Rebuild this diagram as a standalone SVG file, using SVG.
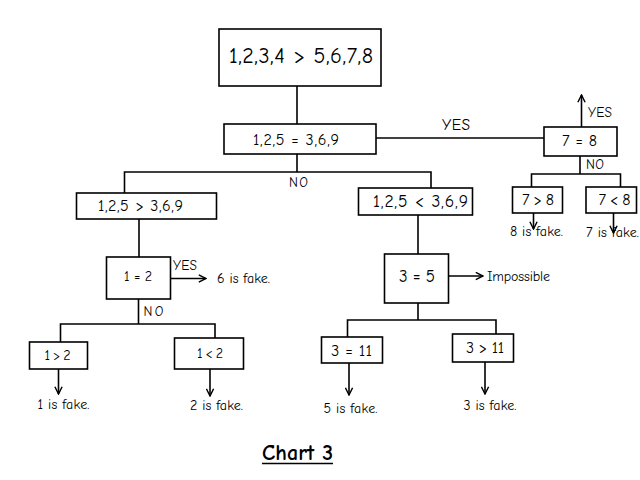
<svg xmlns="http://www.w3.org/2000/svg" width="640" height="480" viewBox="0 0 640 480">
<defs>
<marker id="ah" viewBox="0 0 10 10" refX="9" refY="5" markerWidth="9" markerHeight="9" markerUnits="userSpaceOnUse" orient="auto">
<path d="M1,1 L9,5 L1,9" fill="none" stroke="#000" stroke-width="1.6"/>
</marker>
<style>
.b{fill:#fff;stroke:#000;stroke-width:1.6}
.l{fill:none;stroke:#000;stroke-width:1.6}
.a{fill:none;stroke:#000;stroke-width:1.6;marker-end:url(#ah)}
text{font-family:"Comic Sans MS","Comic Neue","DejaVu Sans",sans-serif;fill:#000}
.t{font-size:16px}
.s{font-size:14px}
.y{font-size:13.5px}
</style>
</defs>
<rect width="640" height="480" fill="#fff"/>
<g id="connectors">
<path class="l" d="M297,86 V124"/>
<path class="l" d="M376,138 H544"/>
<path class="a" d="M581.5,127 V95"/>
<path class="l" d="M580,156 V174 M531.5,187 V174 H620.5 V187"/>
<path class="a" d="M533.5,213 V229"/>
<path class="a" d="M613.5,213 V233"/>
<path class="l" d="M297,154 V172 M124.5,193 V172 H431 V188"/>
<path class="l" d="M139,219 V257"/>
<path class="a" d="M171,278.5 H206"/>
<path class="l" d="M138.5,299 V324 M60.5,342 V324 H215 V338"/>
<path class="a" d="M58.5,369 V394"/>
<path class="a" d="M210,369 V396"/>
<path class="l" d="M418,215 V254"/>
<path class="a" d="M448,276 H483"/>
<path class="l" d="M418,303 V320 M347.5,337 V320 H496 V334"/>
<path class="a" d="M349,363 V395"/>
<path class="a" d="M485,362 V394"/>
</g>
<g id="n1"><rect class="b" x="219" y="29" width="162" height="57"/><text x="229" y="63" textLength="144" style="font-size:22px">1,2,3,4 &gt; 5,6,7,8</text></g>
<g id="n2"><rect class="b" x="224" y="124" width="152" height="30"/><text class="t" x="253" y="145" textLength="86">1,2,5 = 3,6,9</text></g>
<g id="lblYes1"><text x="442" y="129.5" textLength="28" style="font-size:15.5px">YES</text></g>
<g id="n3"><rect class="b" x="544" y="127" width="73" height="29"/><text class="t" x="562" y="146" textLength="35">7 = 8</text></g>
<g id="lblYes2"><text class="y" x="588" y="117" textLength="24">YES</text></g>
<g id="lblNo2"><text class="y" x="586" y="169" textLength="18">NO</text></g>
<g id="n4"><rect class="b" x="512.5" y="187" width="50" height="26"/><text class="t" x="522" y="205" textLength="32">7 &gt; 8</text></g>
<g id="n5"><rect class="b" x="586" y="187" width="50.5" height="26"/><text class="t" x="598.5" y="205" textLength="32">7 &lt; 8</text></g>
<g id="r1"><text class="s" x="510" y="236" textLength="53">8 is fake.</text></g>
<g id="r2"><text class="s" x="586" y="237" textLength="53">7 is fake.</text></g>
<g id="lblNo1"><text class="y" x="289" y="187" textLength="19">NO</text></g>
<g id="n6"><rect class="b" x="76.5" y="193" width="140" height="26"/><text class="t" x="98" y="210.5" textLength="85">1,2,5 &gt; 3,6,9</text></g>
<g id="n7"><rect class="b" x="106.5" y="257" width="64" height="42"/><text x="124" y="281" textLength="28" style="font-size:14px">1 = 2</text></g>
<g id="lblYes3"><text class="y" x="173" y="270" textLength="24">YES</text></g>
<g id="r3"><text class="s" x="217" y="283" textLength="53">6 is fake.</text></g>
<g id="lblNo3"><text class="y" x="143.5" y="316" textLength="20">NO</text></g>
<g id="n8"><rect class="b" x="29.5" y="342" width="58" height="27"/><text x="44.5" y="360" textLength="26" style="font-size:14px">1 &gt; 2</text></g>
<g id="n9"><rect class="b" x="174.5" y="338" width="69" height="31"/><text x="197" y="358" textLength="26" style="font-size:14px">1 &lt; 2</text></g>
<g id="r4"><text class="s" x="37.5" y="409" textLength="52">1 is fake.</text></g>
<g id="r5"><text class="s" x="190" y="410" textLength="53">2 is fake.</text></g>
<g id="n10"><rect class="b" x="358.5" y="188" width="114" height="27"/><text x="373" y="207" textLength="95" style="font-size:17.5px">1,2,5 &lt; 3,6,9</text></g>
<g id="n11"><rect class="b" x="384.5" y="254" width="64" height="49"/><text x="399" y="282" textLength="36" style="font-size:17px">3 = 5</text></g>
<g id="r6"><text class="s" x="487" y="281" textLength="63">Impossible</text></g>
<g id="n12"><rect class="b" x="321.5" y="337" width="61" height="26"/><text x="331" y="356" textLength="41" style="font-size:16.5px">3 = 11</text></g>
<g id="n13"><rect class="b" x="452.5" y="334" width="61" height="28"/><text class="t" x="466" y="353" textLength="38">3 &gt; 11</text></g>
<g id="r7"><text class="s" x="323.5" y="413" textLength="54">5 is fake.</text></g>
<g id="r8"><text class="s" x="463.5" y="409.5" textLength="53">3 is fake.</text></g>
<g id="title"><text x="262" y="460" textLength="71" style="font-size:22px;font-weight:bold">Chart 3</text><path class="l" d="M262,463.5 H333"/></g>
</svg>
